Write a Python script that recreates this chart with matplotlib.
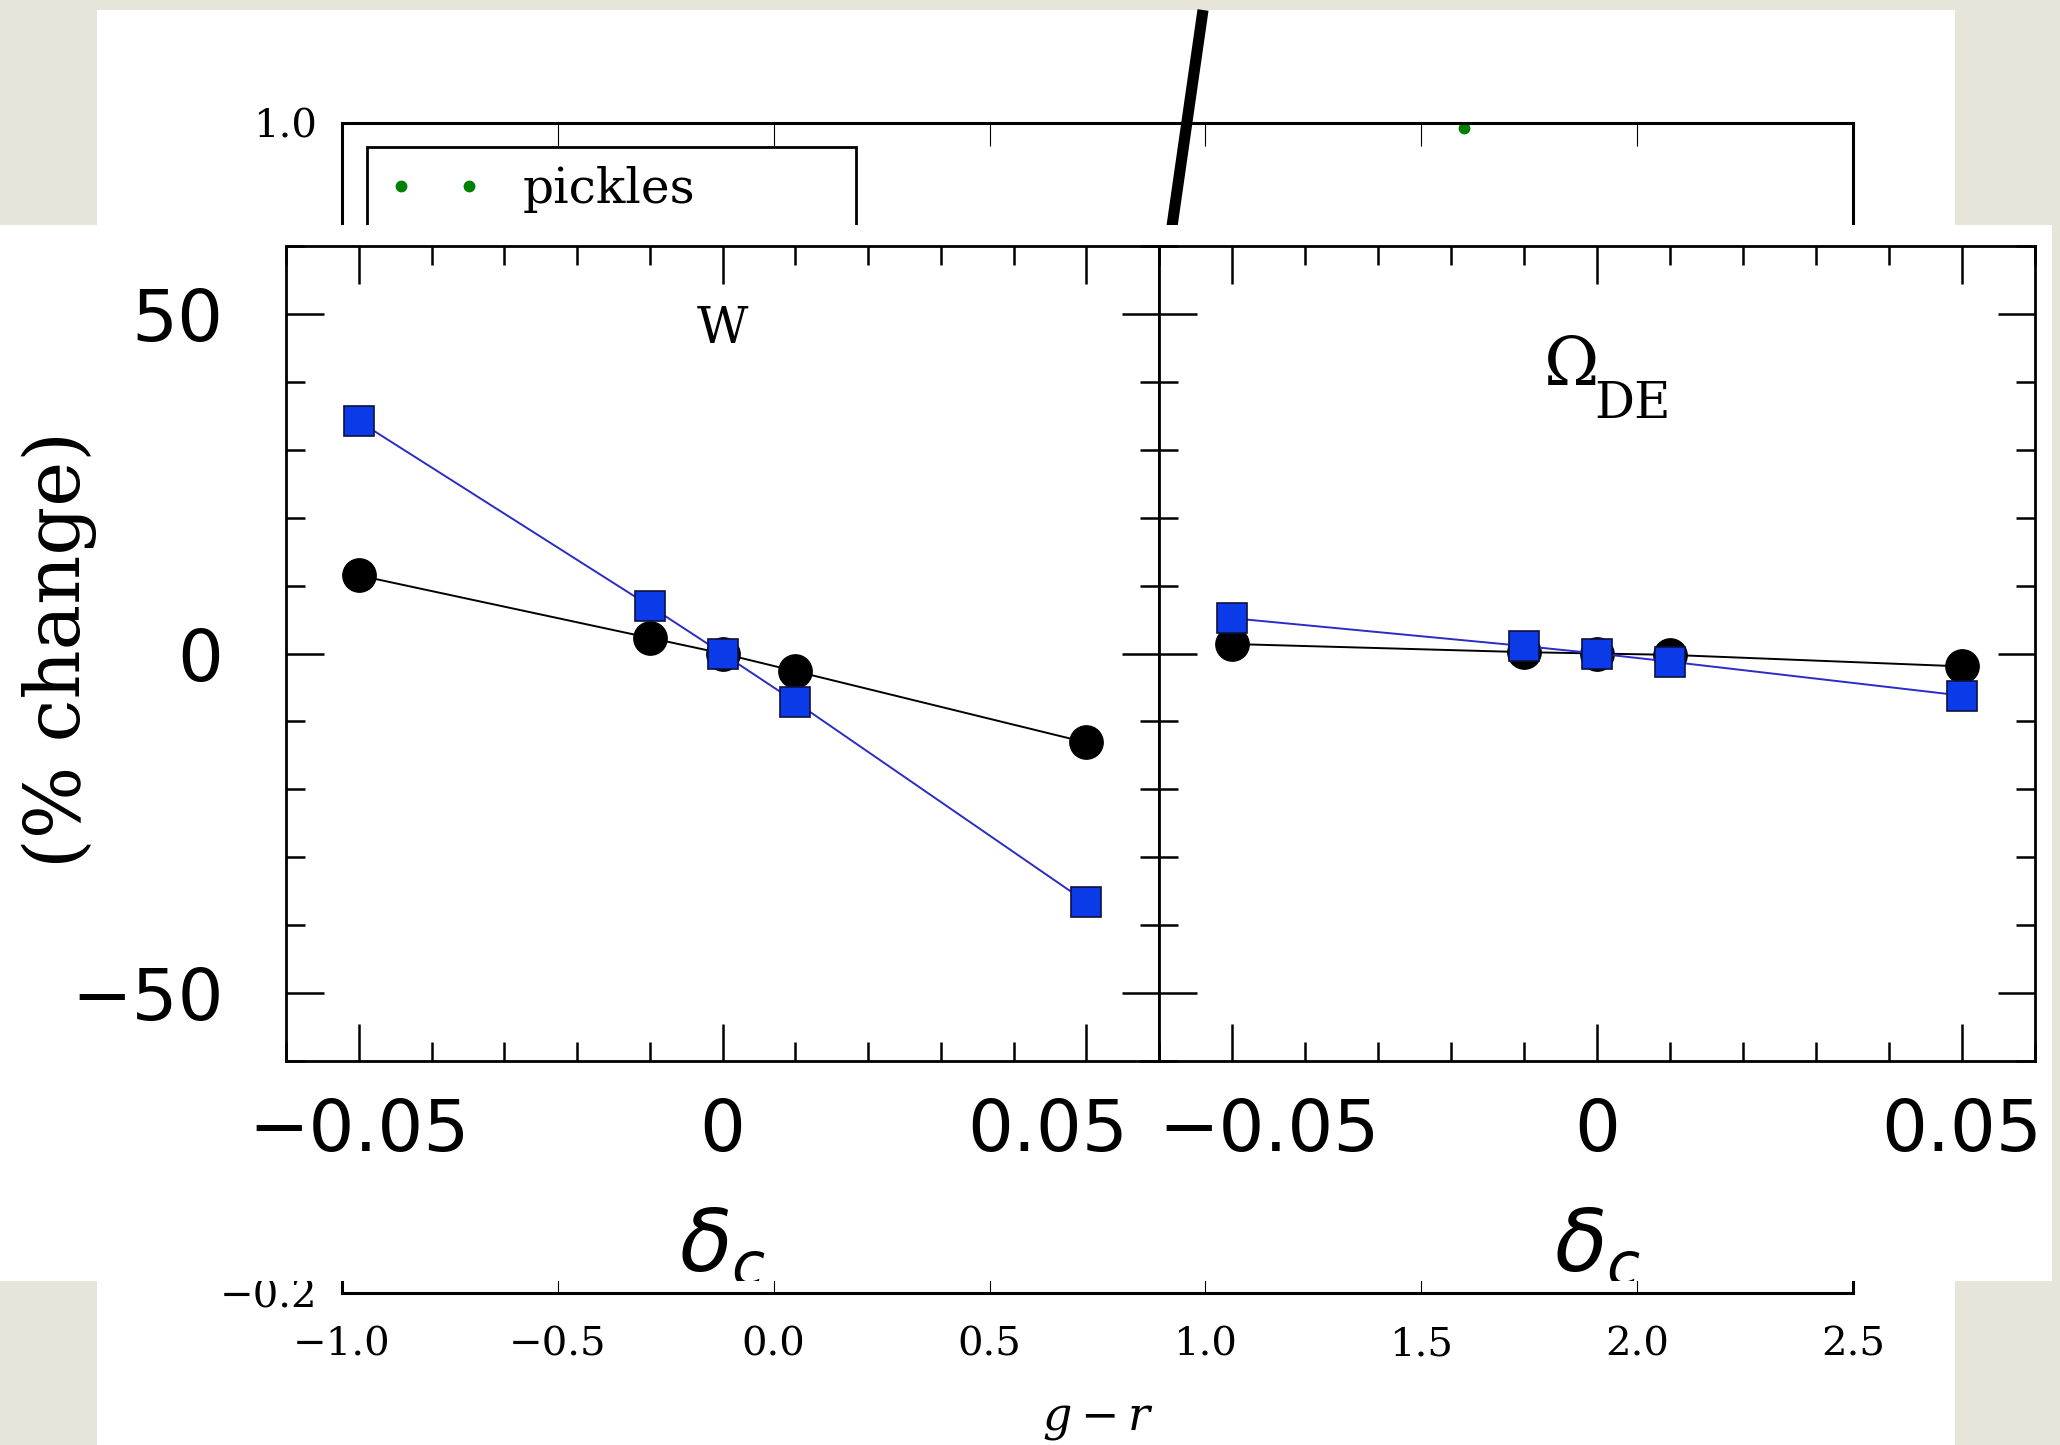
import numpy as np
import matplotlib
matplotlib.use("Agg")
from matplotlib import pyplot as plt
from matplotlib.patches import Rectangle
from matplotlib.lines import Line2D
from matplotlib.transforms import Bbox, TransformedBbox, ScaledTranslation
from matplotlib.ticker import MultipleLocator

plt.rcParams['font.family'] = ['DejaVu Serif']
plt.rcParams['mathtext.fontset'] = 'dejavuserif'

W, H = 2060, 1445

# background chart: g-r
gr_xticks = [-1.0, -0.5, 0.0, 0.5, 1.0, 1.5, 2.0, 2.5]
gr_yticks = [-0.2, 0.0, 0.2, 0.4, 0.6, 0.8, 1.0]
pickles_gr = [1.6]
pickles_y = [0.995]

# overlay chart: % change vs delta_c
delta_c = [-0.05, -0.01, 0.0, 0.01, 0.05]
w_circ = [11.5, 2.3, 0.0, -2.6, -13.1]
w_sq = [34.2, 7.0, 0.0, -7.1, -36.6]
ode_circ = [1.4, 0.2, 0.0, -0.2, -1.9]
ode_sq = [5.2, 1.1, 0.0, -1.2, -6.2]
dc_ticks = [-0.05, 0.0, 0.05]
dc_labels = ['\u22120.05', '0', '0.05']
pc_ticks = [-50, 0, 50]
pc_labels = ['\u221250', '0', '50']


def fx(px):
    return px / W


def fy(py):
    return 1 - py / H


def box(x0, y0, x1, y1):
    return [fx(x0), fy(y1), fx(x1) - fx(x0), fy(y0) - fy(y1)]


fig = plt.figure(figsize=(20.6, 14.45), dpi=100, facecolor='#e7e5d9')

# white figure area of the g-r chart
fig.patches.append(Rectangle((fx(97), 0), fx(1955) - fx(97), fy(10),
                             transform=fig.transFigure, facecolor='white',
                             edgecolor='none', zorder=-1))

ax0 = fig.add_axes(box(342, 123, 1853, 1293), zorder=1)
ax0.plot(pickles_gr, pickles_y, 'o', color='green', ms=7.5, label='pickles')
ax0.set_xlim(-1.0, 2.5)
ax0.set_ylim(-0.2, 1.0)
ax0.set_xticks(gr_xticks)
ax0.set_yticks(gr_yticks)
ax0.tick_params(direction='in', top=True, right=True, length=16.5, width=0.8,
                labelsize=29)
ax0.tick_params(axis='x', pad=24)
ax0.tick_params(axis='y', pad=18)
# labels lying under the overlaid picture are not shown
for lab in ax0.get_yticklabels()[1:-1]:
    lab.set_visible(False)
for s in ax0.spines.values():
    s.set_linewidth(2.2)
ax0.set_xlabel(r'$g - r$', fontsize=33)
ax0.xaxis.set_label_coords(0.5, -0.089)
leg = ax0.legend(loc='upper left', bbox_to_anchor=(0.0166, 0.0, 0.3237, 0.9795),
                 mode='expand', borderaxespad=0, numpoints=2, fontsize=35,
                 fancybox=False, framealpha=1, edgecolor='k')
leg.get_frame().set_linewidth(2.0)

# broken-axis slash
fig.add_artist(Line2D([fx(1203), fx(1160)], [fy(10), fy(310)],
                      transform=fig.transFigure, color='k', lw=8,
                      solid_capstyle='butt', zorder=2))

# overlaid picture
fig.patches.append(Rectangle((0, fy(1281)), fx(2052), fy(225) - fy(1281),
                             transform=fig.transFigure, facecolor='white',
                             edgecolor='none', zorder=4))
clip = TransformedBbox(Bbox.from_extents(0, fy(1281), fx(2052), fy(225)),
                       fig.transFigure)

ax1 = fig.add_axes(box(286, 246, 1159, 1061), zorder=6)
ax2 = fig.add_axes(box(1159, 246, 2035, 1061), zorder=6)

for ax, circ, sq in [(ax1, w_circ, w_sq), (ax2, ode_circ, ode_sq)]:
    ax.plot(delta_c, circ, '-o', color='k', lw=1.4, ms=24, zorder=3)
    ax.plot(delta_c, sq, '-s', color='#2b2bc6', lw=1.4, ms=22,
            markerfacecolor='#0b3be8', markeredgecolor='#101040',
            markeredgewidth=1.2, zorder=4)
    ax.set_xlim(-0.06, 0.06)
    ax.set_ylim(-60, 60)
    ax.set_xticks(dc_ticks, labels=dc_labels)
    ax.xaxis.set_minor_locator(MultipleLocator(0.01))
    ax.yaxis.set_minor_locator(MultipleLocator(10))
    ax.tick_params(which='both', direction='in', top=True, right=True)
    ax.tick_params(which='major', length=27, width=1.8)
    ax.tick_params(which='minor', length=14, width=1.8)
    ax.tick_params(axis='x', labelsize=52, pad=26)
    ax.tick_params(axis='y', labelsize=52, pad=45)
    for s in ax.spines.values():
        s.set_linewidth(2)
    ax.set_xlabel(r'$\delta_c$', fontsize=62, math_fontfamily='dejavusans')
    ax.xaxis.set_label_coords(0.5, -0.178)
    ax.xaxis.label.set_clip_box(clip)
    ax.xaxis.label.set_clip_on(True)

ax1.set_yticks(pc_ticks, labels=pc_labels)
ax2.set_yticks(pc_ticks, labels=['', '', ''])

for ax in (ax1, ax2):
    for lab in ax.get_xticklabels() + ax.get_yticklabels():
        lab.set_fontfamily('DejaVu Sans')

# edge labels are nudged inward so they do not collide at the shared border
lab = ax1.get_xticklabels()[2]
lab.set_transform(lab.get_transform() + ScaledTranslation(-0.39, 0, fig.dpi_scale_trans))
lab = ax2.get_xticklabels()[0]
lab.set_transform(lab.get_transform() + ScaledTranslation(0.37, 0, fig.dpi_scale_trans))

ax1.text(0.0, 45.7, 'W', fontsize=36, ha='center', va='baseline')
ax2.text(-0.0073, 39.5, '\u03a9', fontsize=48, ha='left', va='baseline')
ax2.text(-0.0004, 34.7, 'DE', fontsize=36, ha='left', va='baseline')

fig.text(fx(59), fy(650), '(% change)', rotation=90, fontsize=55,
         family='DejaVu Serif', ha='center', va='center', zorder=7)

fig.savefig('out.png', dpi=100, facecolor=fig.get_facecolor())
